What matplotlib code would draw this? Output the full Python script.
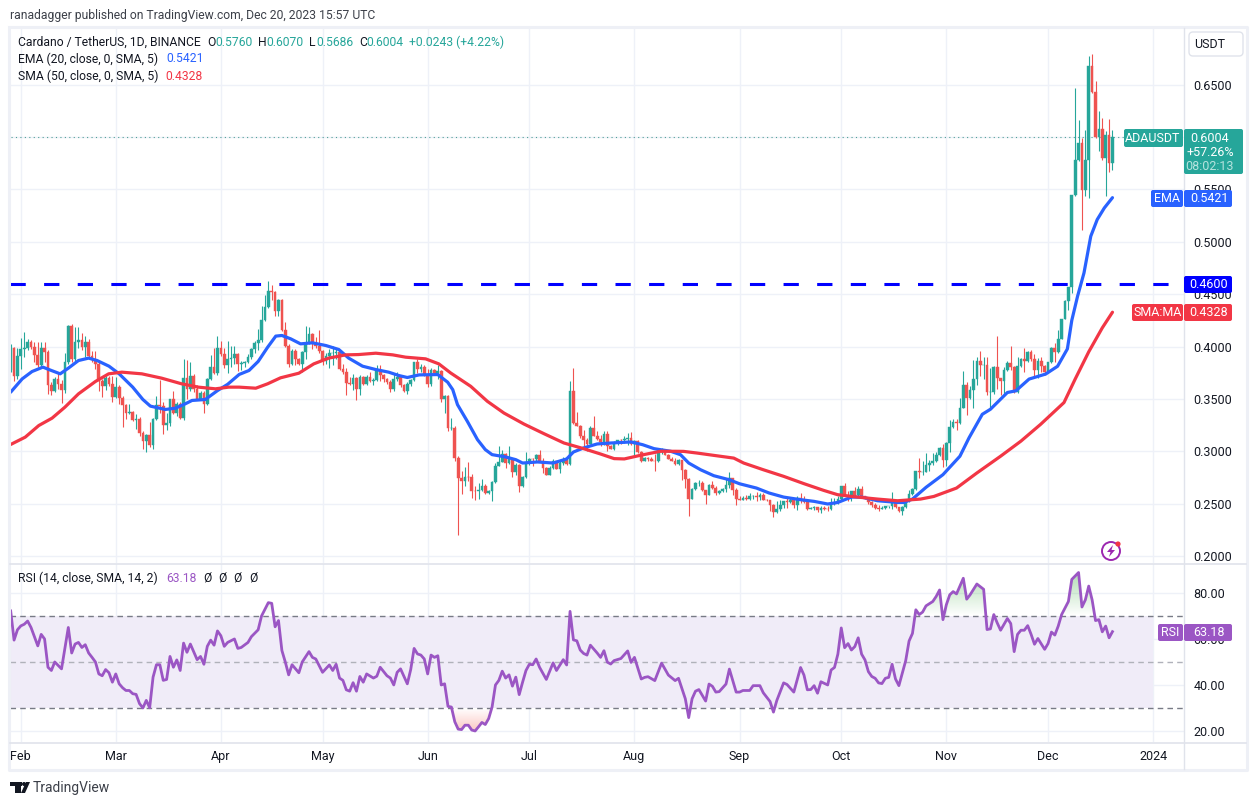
import numpy as np
import matplotlib
matplotlib.use("Agg")
import matplotlib.pyplot as plt
from matplotlib.patches import Polygon, Circle, FancyBboxPatch, Rectangle

plt.rcParams['font.family'] = ['Roboto', 'DejaVu Sans']

GREEN = '#26a69a'
RED = '#ef5350'
EMA_BLUE = '#2962ff'
SMA_RED = '#f23645'
RSI_PURPLE = '#9b56c4'
GRID = '#eef1f8'
BORDER = '#e0e3eb'
TEXT = '#131722'

W, H = 1258, 805

first_open = 0.378

closes = [
    .399, .372, .391, .398, .399, .404, .400, .392, .382, .399,
    .395, .363, .358, .369, .364, .359, .385, .420, .388, .404,
    .406, .400, .404, .391, .387, .383, .367, .362, .370, .364,
    .352, .361, .351, .344, .337, .338, .330, .331, .318, .310,
    .316, .306, .331, .344, .343, .325, .327, .350, .337, .345,
    .332, .370, .360, .372, .360, .350, .356, .345, .369, .381,
    .375, .399, .393, .382, .388, .389, .393, .383, .384, .385,
    .390, .398, .403, .406, .425, .438, .453, .452, .434, .444,
    .416, .401, .383, .396, .388, .383, .395, .403, .412, .403,
    .401, .396, .386, .391, .394, .394, .395, .379, .376, .365,
    .364, .370, .360, .371, .364, .371, .367, .368, .378, .373,
    .369, .366, .360, .369, .371, .363, .358, .364, .368, .385,
    .379, .381, .373, .364, .378, .375, .377, .350, .353, .322,
    .322, .294, .275, .2715, .2755, .2753, .2625, .2620, .2632, .2673,
    .2603, .2625, .2708, .2864, .2902, .2975, .289, .2925, .2803, .2873,
    .2667, .2756, .2889, .2931, .2928, .2969, .2905, .2842, .2778, .2842,
    .2905, .2835, .2886, .2921, .2880, .3573, .3271, .3245, .3144, .3108,
    .3075, .3223, .315, .312, .3085, .3169, .3055, .3026, .308, .3108,
    .3105, .3122, .3125, .3071, .3102, .2991, .2912, .2937, .293, .2912,
    .2905, .3017, .3017, .2969, .2931, .2912, .288, .2914, .2819, .2736,
    .2548, .2641, .2698, .2700, .2628, .2586, .2682, .265, .2602, .2625,
    .2641, .2682, .2746, .2634, .2545, .2539, .2555, .2548, .2570, .2577,
    .2565, .2586, .2539, .2532, .2491, .2418, .2453, .2491, .2523, .2520,
    .2535, .2485, .2554, .2548, .2513, .2449, .2459, .2465, .2437, .2459,
    .2455, .2447, .2497, .2507, .2548, .2666, .2577, .2565, .2618, .2586,
    .2640, .2571, .2555, .2513, .2491, .2459, .2450, .2459, .2475, .2480,
    .2523, .2466, .2428, .2466, .2529, .2590, .2642, .2811, .2803, .2805,
    .2870, .2890, .2906, .2963, .3035, .2922, .3082, .3236, .3284, .3270,
    .3418, .3633, .3508, .3585, .3690, .3860, .3823, .3825, .3562, .3570,
    .3802, .3700, .3674, .3777, .3844, .3809, .3562, .3812, .3882, .3866,
    .3946, .3882, .3780, .3860, .3818, .3754, .3850, .3985, .3953, .4074,
    .4266, .4436, .4570, .5450, .5785, .5943, .5498, .5785, .6675, .6427,
    .5998, .6077, .5800, .6023, .5753, .6004,
]

highs = [
    .402, .400, .399, .408, .414, .407, .406, .404, .404, .404,
    .404, .397, .366, .371, .376, .368, .394, .421, .422, .419,
    .419, .413, .410, .407, .396, .396, .386, .369, .372, .372,
    .372, .371, .363, .353, .345, .345, .339, .336, .333, .319,
    .317, .328, .332, .353, .368, .347, .337, .350, .358, .347,
    .347, .388, .387, .385, .374, .363, .358, .358, .370, .3915,
    .399, .4105, .405, .399, .4055, .401, .401, .394, .386, .386,
    .393, .399, .405, .417, .439, .449, .463, .459, .453, .445,
    .445, .423, .402, .398, .398, .389, .396, .420, .419, .413,
    .409, .416, .397, .394, .398, .401, .399, .396, .383, .380,
    .371, .374, .371, .373, .372, .373, .376, .370, .382, .382,
    .374, .370, .368, .374, .376, .372, .364, .366, .369, .385,
    .3885, .383, .382, .379, .380, .379, .3825, .378, .354, .354,
    .332, .324, .2953, .281, .285, .29, .278, .2667, .27, .274,
    .2686, .2635, .2714, .289, .3055, .3015, .2985, .3055, .2937, .2889,
    .288, .2762, .2994, .2937, .2937, .2975, .3017, .2937, .2848, .2858,
    .2931, .2912, .2905, .2944, .2937, .3675, .3796, .338, .3255, .3207,
    .3128, .3239, .3335, .3192, .316, .3192, .3192, .3064, .3096, .3112,
    .3122, .3144, .3176, .3185, .3112, .3112, .3007, .2944, .2944, .2944,
    .2975, .3026, .3033, .3026, .2975, .2947, .2936, .2927, .2920, .2831,
    .2745, .2650, .2704, .2730, .2714, .2634, .2689, .2714, .2670, .2634,
    .2650, .2736, .2803, .2740, .2650, .2571, .2571, .2583, .2603, .2587,
    .2615, .2603, .2603, .2548, .2539, .2497, .2529, .2539, .2529, .2561,
    .2561, .2529, .2571, .2603, .2571, .2539, .2465, .2475, .2465, .2481,
    .2481, .2475, .2555, .2555, .2571, .2666, .2698, .2618, .2618, .2660,
    .2673, .2666, .2577, .2561, .2523, .2507, .2487, .2475, .2481, .2481,
    .2609, .2529, .2469, .2475, .2539, .2634, .2650, .2817, .2938, .2906,
    .2980, .2916, .2986, .2992, .3042, .3066, .3088, .3298, .3306, .3306,
    .3505, .3764, .3658, .3625, .3873, .3905, .3956, .3898, .3905, .3796,
    .3818, .4100, .3700, .3802, .3860, .4004, .3815, .3898, .3888, .3985,
    .3962, .3972, .3930, .3892, .3898, .3824, .3856, .3994, .4034, .4161,
    .4266, .4442, .4570, .5450, .6468, .6166, .5991, .6071, .6777, .6796,
    .6538, .6252, .6182, .6060, .6172, .6070,
]

lows = [
    .376, .367, .369, .379, .390, .397, .398, .385, .381, .381,
    .385, .355, .354, .357, .360, .346, .356, .383, .385, .386,
    .399, .397, .390, .390, .385, .379, .358, .352, .359, .362,
    .347, .351, .345, .323, .331, .336, .329, .3215, .315, .302,
    .299, .304, .302, .330, .337, .317, .320, .324, .336, .334,
    .331, .330, .350, .358, .357, .349, .349, .337, .344, .368,
    .374, .373, .391, .380, .375, .381, .383, .377, .378, .381,
    .384, .388, .394, .397, .404, .424, .437, .444, .429, .429,
    .415, .400, .381, .382, .382, .382, .376, .388, .402, .398,
    .399, .394, .382, .383, .380, .382, .388, .378, .374, .354,
    .363, .359, .3495, .354, .363, .363, .366, .363, .367, .367,
    .366, .364, .357, .358, .367, .361, .357, .355, .362, .367,
    .375, .376, .372, .361, .362, .374, .369, .3476, .337, .319,
    .3207, .2905, .2206, .2597, .2667, .2715, .2555, .2533, .2546, .262,
    .2596, .2590, .2524, .2702, .2858, .2896, .2842, .2883, .276, .2778,
    .261, .266, .2746, .2873, .2858, .2905, .2899, .2794, .2772, .2772,
    .2829, .2829, .2794, .2873, .2873, .2873, .3266, .3242, .3128, .3048,
    .3007, .3074, .3144, .3112, .3048, .3058, .3007, .3023, .3017, .3064,
    .3071, .308, .3064, .3064, .2953, .2985, .2899, .2912, .2912, .2905,
    .2816, .2899, .2975, .2963, .2924, .2905, .2873, .2873, .2730, .2650,
    .2386, .2543, .2634, .2666, .2618, .2501, .2580, .2640, .2586, .2596,
    .2615, .2610, .2650, .2586, .2490, .2533, .2539, .2536, .2539, .2548,
    .2523, .2539, .2533, .2526, .2428, .2370, .2408, .2428, .2463, .2463,
    .2507, .2463, .2440, .2507, .2507, .2441, .2450, .2441, .2418, .2412,
    .2437, .2431, .2437, .2485, .2497, .2539, .2571, .2523, .2523, .2565,
    .2577, .2565, .2548, .2500, .2469, .2453, .2428, .2453, .2453, .2459,
    .2453, .2459, .2418, .2396, .2459, .2520, .2580, .2635, .2746, .2772,
    .2800, .2810, .2870, .2900, .2954, .2849, .2856, .2993, .3224, .3200,
    .3262, .3410, .3345, .3500, .3418, .3633, .3722, .3690, .3535, .3412,
    .3550, .3594, .3537, .3550, .3770, .3780, .3555, .3555, .3802, .3754,
    .3850, .3866, .3722, .3696, .3754, .3728, .3744, .3840, .3850, .3935,
    .4068, .4260, .4346, .4510, .5440, .5770, .5117, .5435, .5419, .6420,
    .5990, .5864, .5785, .5435, .5664, .5686,
]

ema_days = [0, 3.4, 6.3, 9.5, 12, 14.6, 17, 20, 23, 25.5, 29, 32, 36, 39, 41.2, 45.6, 48.6, 51.5,
            53.5, 57.4, 61, 64, 67.4, 70.3, 73, 75.8, 78.2, 80, 82.6, 85.5, 89, 93, 96.8, 99.7,
            103.8, 107.7, 111.5, 114.5, 117, 120.5, 126, 128.9, 130.4, 131.8, 134.7, 137.7, 140,
            142, 146, 149, 151, 155.4, 160, 164, 166, 169, 173, 177, 183, 186.4, 189.8, 194.7,
            197.6, 200, 203.5, 207.4, 211.9, 215, 220, 223.7, 228, 233, 237, 241, 244, 248, 251,
            255.7, 261.6, 263.5, 266, 270, 275, 280, 282.7, 286.6, 289, 294, 296.5, 300.4, 305.3,
            308.8, 311.7, 313, 314.7, 316.6, 318.6, 320.5, 322.6, 325]
ema_values = [.3565, .3692, .3762, .3804, .3772, .374, .3794, .3867, .389, .3867, .3813, .374, .3613,
              .3495, .3432, .340, .3412, .3454, .3486, .3495, .358, .364, .3734, .3772, .3858, .3994,
              .41, .4106, .4074, .4026, .4036, .401, .3972, .389, .3813, .3781, .3756, .3724, .3705,
              .373, .3733, .366, .3589, .3446, .3287, .3112, .3017, .2969, .2947, .2921, .2889, .2899,
              .2889, .2928, .2994, .3033, .3071, .308, .309, .3064, .3026, .3001, .2968, .2889, .2825,
              .2768, .273, .2691, .265, .2603, .2564, .2539, .2523, .2498, .2513, .2564, .2564, .2529,
              .2513, .2513, .2545, .2657, .2778, .2954, .313, .3354, .3402, .3562, .3578, .369, .3738,
              .3812, .3978, .425, .448, .4703, .5053, .5212, .5323, .5421]

sma_days = [0, 4.3, 8.3, 12.2, 16, 20, 25, 28.9, 32.8, 38.7, 44.5, 50.4, 55.4, 60.4, 64.3, 67.4, 72.3,
            75.8, 79.6, 85, 89.4, 93.8, 98.8, 102.6, 107.7, 112.7, 116.5, 122.4, 126.3, 129.8, 135.7,
            140.6, 145.5, 151.4, 157.3, 163.2, 169, 174, 178, 181, 185.8, 191.7, 196, 198.5, 202.5,
            207.4, 213.3, 216.2, 222, 228, 234, 239.8, 243.9, 249.8, 255.7, 261.6, 268.4, 272.3, 279,
            285, 292, 298, 303.8, 310.7, 314, 318, 322, 325]
sma_values = [.3066, .3136, .3247, .3317, .3422, .3549, .3667, .374, .3756, .374, .3699, .3645, .3613,
              .3597, .3613, .3613, .3603, .3645, .3702, .3746, .3835, .389, .3921, .3924, .3937, .3921,
              .3899, .3883, .3835, .3748, .3621, .3478, .3366, .3261, .3169, .308, .3026, .2975, .2931,
              .2928, .2963, .3001, .3001, .30, .2984, .2962, .2936, .2889, .2825, .2762, .2692, .2628,
              .2587, .2564, .2545, .2529, .2545, .257, .265, .2794, .2954, .3098, .3258, .3466, .369,
              .395, .4179, .4328]

rsi_days = [0, 1, 2, 3, 4, 5, 6, 8, 9, 10, 11, 12, 13, 15, 17, 18, 19, 20, 21, 22, 23, 24, 25, 26, 27,
            28, 29, 30, 31, 32, 33, 34, 35, 36, 37, 38, 39, 40, 41, 42, 43, 44, 45, 46, 47, 48, 49, 50,
            51, 52, 53, 55, 56, 57, 58, 59, 60, 61, 62, 63, 64, 66, 67, 68, 70, 71, 73, 74, 76, 77, 78,
            79, 80, 81, 82, 83, 85, 86, 88, 89, 90, 92, 94, 95, 96, 97, 98, 99, 100, 101, 102, 103, 104,
            105, 107, 108, 109, 111, 112, 113, 114, 115, 117, 118, 119, 120, 121, 122, 123, 124, 125,
            126, 127, 128, 129, 130, 131, 132, 133, 134, 135, 136, 137, 138, 139, 140, 141, 142, 143,
            144, 145, 146, 147, 148, 149, 150, 151, 152, 153, 154, 155, 156, 158, 160, 161, 163, 164,
            165, 166, 167, 168, 169, 170, 171, 173, 174, 175, 176, 177, 178, 180, 182, 183, 184, 186,
            187, 188, 190, 192, 194, 196, 197, 199, 200, 201, 202, 203, 205, 206, 207, 208, 209, 211,
            212, 214, 215, 216, 218, 219, 221, 222, 223, 224, 225, 226, 228, 229, 231, 233, 234, 235,
            236, 237, 238, 239, 241, 242, 243, 244, 245, 246, 247, 248, 249, 250, 251, 252, 253, 254,
            255, 256, 257, 258, 259, 260, 261, 262, 264, 265, 266, 267, 268, 269, 270, 272, 273, 274,
            275, 276, 277, 278, 279, 281, 282, 283, 285, 287, 288, 289, 290, 291, 292, 294, 295, 296,
            297, 298, 299, 300, 301, 302, 303, 305, 306, 307, 308, 309, 310, 312, 313, 315, 316, 317,
            318, 319, 320, 321, 322, 323, 324, 325]
rsi_values = [72.2, 59.5, 64, 65.7, 66.4, 67.8, 65, 57, 62, 60, 47.7, 46.3, 50, 47, 65, 53.9, 57.8, 58.5,
              56.3, 57.5, 53.9, 52, 50, 44.8, 44, 46.7, 45.3, 41.2, 44.8, 40.5, 38.8, 37.6, 37.6, 36.2,
              35.9, 31.9, 30, 33.3, 30.1, 43.4, 48.8, 48.8, 42, 42.4, 52.4, 47.7, 50.9, 46.3, 58.2, 54.2,
              57.8, 51, 52.4, 49, 56.8, 59.5, 57.3, 63.5, 61.4, 56.8, 58.5, 60, 55.9, 56.3, 58.5, 61, 64,
              70, 75.8, 75.5, 65.3, 68, 55, 50, 44.4, 48.8, 45.3, 50, 54.5, 52, 51.3, 45.5, 48.7, 46.3,
              49, 43, 42, 37.9, 37.3, 41, 37.3, 43.7, 41.2, 44.8, 43, 43.8, 47.7, 44, 43, 40, 45.5, 47,
              40.5, 46.7, 55.9, 53.5, 53, 51.3, 44.8, 53, 52, 52.7, 40, 40.5, 30.7, 30.4, 24, 20.8, 20.6,
              22.5, 22.5, 20.4, 20, 21.8, 23.7, 22.8, 25.4, 30.4, 40, 42, 46, 43, 44.4, 39.5, 43.4, 35.8,
              41.2, 46.3, 49, 48.8, 51.3, 47.7, 42.4, 49.6, 46.3, 51, 48.7, 72, 59.6, 59.2, 55.2, 53.7,
              53, 57.3, 53.9, 52, 54.9, 49.9, 49.1, 50.6, 51.5, 54.8, 49.8, 52, 42.6, 43.3, 43.6, 41.9,
              49.5, 44.3, 41.9, 42.9, 34, 25.8, 34, 37.3, 38, 33, 40.4, 39.4, 36.9, 37.1, 40.4, 46.9,
              36.9, 36.9, 37.6, 37.6, 39.7, 39.7, 36.6, 34.7, 32.8, 28.2, 33.3, 40.9, 40.2, 36.9, 47.6,
              44.3, 37.9, 38, 39.7, 36.4, 41.4, 40, 46.5, 47.6, 53.4, 64.8, 56.2, 58, 55.2, 56.7, 60.5,
              53.4, 50.9, 45.8, 43.7, 42.9, 40.9, 40.6, 42.9, 43.3, 49, 42.6, 39.7, 50.5, 59.1, 62.4,
              72.7, 70.6, 71.7, 74.4, 76.3, 78.5, 81.3, 68.4, 74.9, 79.2, 80.6, 79.6, 86.4, 77.3, 79.2,
              83.9, 81.6, 64.1, 64.4, 70.6, 67, 63.8, 68.9, 66.7, 54.5, 62, 63.8, 63.8, 65.8, 62, 57.7,
              60.2, 55.5, 58, 63, 61.7, 65.6, 70.6, 76.3, 85.9, 88.9, 73.9, 77, 83, 77, 68, 68.4, 63.1,
              65.6, 60.5, 63.18]

month_days = [3, 31, 62, 92, 123, 153, 184, 215, 245, 276, 306, 337]
month_labels = ['Feb', 'Mar', 'Apr', 'May', 'Jun', 'Jul', 'Aug', 'Sep', 'Oct', 'Nov', 'Dec', '2024']
price_ticks = [0.20, 0.25, 0.30, 0.35, 0.40, 0.45, 0.50, 0.55, 0.60, 0.65]
rsi_ticks = [20, 40, 60, 80]

support_level = 0.46
last_price = 0.6004


def pane(left, top, right, bottom):
    return [left / W, 1 - bottom / H, (right - left) / W, (bottom - top) / H]


fig = plt.figure(figsize=(W / 100, H / 100), dpi=100, facecolor='white')
ax = fig.add_axes(pane(10, 28, 1184, 563))
ax_rsi = fig.add_axes(pane(10, 564, 1184, 742))
overlay = fig.add_axes([0, 0, 1, 1], zorder=10)
overlay.set_xlim(0, W)
overlay.set_ylim(H, 0)
overlay.axis('off')

days = np.arange(len(closes))
closes_arr = np.array(closes)
opens_arr = np.concatenate([[first_open], closes_arr[:-1]])
colors = [GREEN if c >= o else RED for o, c in zip(opens_arr, closes_arr)]

# candles
ax.vlines(days, lows, highs, colors=colors, linewidth=0.8, zorder=3)
ax.bar(days, closes_arr - opens_arr, bottom=opens_arr, width=0.8, color=colors,
       edgecolor=colors, linewidth=0.3, zorder=4)

# moving averages and levels
ax.plot(ema_days, ema_values, color=EMA_BLUE, lw=2.3, zorder=5, solid_capstyle='round')
ax.plot(sma_days, sma_values, color=SMA_RED, lw=2.3, zorder=5, solid_capstyle='round')
ax.axhline(support_level, color='#0000ff', lw=2.2, linestyle=(0, (5, 6)), dash_capstyle='butt', zorder=6)
ax.plot([0, 329], [last_price, last_price], color='#4f9f96', lw=0.8, linestyle=(0, (1, 3)), zorder=2)

ax.set_xlim(-0.2, 346.1)
ax.set_ylim(0.1935, 0.7040)
# the 0.6000 label sits fully behind the last price tag
ax.set_yticks(price_ticks, labels=[f"{t:.4f}" if t != 0.60 else "" for t in price_ticks])
ax.yaxis.tick_right()
ax.set_xticks(month_days, labels=[])
ax.tick_params(axis='both', length=0, labelsize=9, labelcolor=TEXT, pad=7)
ax.grid(True, color=GRID, lw=1.0, zorder=0)
ax.set_axisbelow(True)

# rsi pane
rsi_days_arr = np.array(rsi_days, dtype=float)
rsi_values_arr = np.array(rsi_values)
ax_rsi.axhspan(30, 70, xmin=0, xmax=(337 + 0.2) / 346.3, color='#f0ecf8', lw=0, zorder=1)
ax_rsi.axhline(70, color='#787b86', lw=1.0, linestyle=(0, (4, 3)), zorder=2)
ax_rsi.axhline(50, color='#b0b2ba', lw=1.0, linestyle=(0, (4, 3)), zorder=2)
ax_rsi.axhline(30, color='#787b86', lw=1.0, linestyle=(0, (4, 3)), zorder=2)

green_rgba = np.zeros((64, 1, 4))
green_rgba[..., :3] = matplotlib.colors.to_rgb('#4caf50')
green_rgba[..., 3] = np.linspace(0, 0.45, 64)[::-1].reshape(-1, 1)
im_top = ax_rsi.imshow(green_rgba, extent=(0, 326, 70, 90), aspect='auto', zorder=2, origin='upper')
clip_top = Polygon(np.column_stack([np.r_[rsi_days_arr, rsi_days_arr[-1], rsi_days_arr[0]],
                                    np.r_[rsi_values_arr, 70, 70]]), closed=True, transform=ax_rsi.transData)
im_top.set_clip_path(clip_top)

red_rgba = np.zeros((64, 1, 4))
red_rgba[..., :3] = matplotlib.colors.to_rgb('#f44336')
red_rgba[..., 3] = np.linspace(0, 0.3, 64).reshape(-1, 1)[::-1]
im_bot = ax_rsi.imshow(red_rgba, extent=(0, 326, 20, 30), aspect='auto', zorder=2, origin='lower')
clip_bot = Polygon(np.column_stack([np.r_[rsi_days_arr, rsi_days_arr[-1], rsi_days_arr[0]],
                                    np.r_[rsi_values_arr, 30, 30]]), closed=True, transform=ax_rsi.transData)
im_bot.set_clip_path(clip_bot)

ax_rsi.plot(rsi_days_arr, rsi_values_arr, color=RSI_PURPLE, lw=2.0, zorder=5)

ax_rsi.set_xlim(-0.2, 346.1)
ax_rsi.set_ylim(15.2, 92.6)
ax_rsi.set_yticks(rsi_ticks, labels=[f"{t:.2f}" for t in rsi_ticks])
ax_rsi.yaxis.tick_right()
ax_rsi.set_xticks(month_days, labels=month_labels)
ax_rsi.tick_params(axis='both', length=0, labelsize=9, labelcolor=TEXT)
ax_rsi.tick_params(axis='y', pad=7)
ax_rsi.tick_params(axis='x', pad=6)
ax_rsi.grid(True, color=GRID, lw=1.0, zorder=0)
ax_rsi.set_axisbelow(True)

for a in (ax, ax_rsi):
    for s in a.spines.values():
        s.set_visible(False)

# frame of the chart
overlay.plot([9, 9, 1247, 1247, 9], [27, 770, 770, 27, 27], color='#eef0f6', lw=2.2)
overlay.plot([1184, 1184], [28, 769], color=BORDER, lw=1.0)
overlay.plot([10, 1246], [563.5, 563.5], color=BORDER, lw=1.2)
overlay.plot([10, 1246], [742.5, 742.5], color=BORDER, lw=1.2)

# header text
overlay.text(10, 15, "ranadagger published on TradingView.com, Dec 20, 2023 15:57 UTC",
             fontsize=8.7, color='#3c4049', va='center')


def legend_row(y, parts):
    for x, txt, col in parts:
        overlay.text(x, y, txt, fontsize=8.7, color=col, va='center')


legend_row(42, [(18, "Cardano / TetherUS, 1D, BINANCE", TEXT), (207, "O", TEXT), (215, "0.5760", GREEN),
                (258, "H", TEXT), (266, "0.6070", GREEN), (309, "L", TEXT), (316, "0.5686", GREEN),
                (359, "C", TEXT), (366, "0.6004", GREEN), (409, "+0.0243 (+4.22%)", GREEN)])
legend_row(59, [(18, "EMA (20, close, 0, SMA, 5)", TEXT), (166, "0.5421", EMA_BLUE)])
legend_row(76, [(18, "SMA (50, close, 0, SMA, 5)", TEXT), (165, "0.4328", SMA_RED)])
legend_row(578, [(18, "RSI (14, close, SMA, 14, 2)", TEXT), (166, "63.18", RSI_PURPLE),
                 (203, "Ø", TEXT), (218, "Ø", TEXT), (233, "Ø", TEXT), (249, "Ø", TEXT)])


def tag(x0, x1, y0, y1, color, zorder=12):
    overlay.add_patch(FancyBboxPatch((x0 + 1, y0 + 1), x1 - x0 - 2, y1 - y0 - 2,
                                     boxstyle="round,pad=1,rounding_size=2", fc=color, ec='none', zorder=zorder))


def tag_text(x, y, txt, color='white'):
    overlay.text(x, y, txt, fontsize=9, color=color, ha='center', va='center', zorder=13)


# usdt button
overlay.add_patch(FancyBboxPatch((1190, 33), 52, 22, boxstyle="round,pad=1,rounding_size=4",
                                 fc='white', ec=BORDER, lw=1.0, zorder=12))
tag_text(1210, 44, "USDT", TEXT)

# right side tags
tag(1124, 1183, 129, 147, GREEN)
tag_text(1153, 138, "ADAUSDT")
tag(1184, 1243, 129, 174, GREEN)
tag_text(1210, 138, "0.6004")
tag_text(1210, 152, "+57.26%")
tag_text(1210, 166, "08:02:13", '#b5e3de')

tag(1151, 1183, 190, 207, EMA_BLUE)
tag_text(1167, 198.5, "EMA")
tag(1184, 1232, 190, 207, EMA_BLUE)
tag_text(1209, 198.5, "0.5421")

tag(1184, 1232, 276, 293, '#0000ff')
tag_text(1209, 284.5, "0.4600")

tag(1132, 1183, 304, 321, SMA_RED)
tag_text(1158, 312.5, "SMA:MA")
tag(1184, 1232, 304, 321, SMA_RED)
tag_text(1209, 312.5, "0.4328")

tag(1158, 1183, 624, 641, RSI_PURPLE)
tag_text(1170.5, 632.5, "RSI")
tag(1184, 1232, 624, 641, RSI_PURPLE)
tag_text(1209, 632.5, "63.18")

# flash icon
overlay.add_patch(Circle((1111, 551), 9, fc='white', ec='#9c27b0', lw=1.4, zorder=12))
overlay.add_patch(Polygon([(1113, 545), (1107, 552), (1110.5, 552), (1109, 557), (1115, 550), (1111.5, 550)],
                          closed=True, fc='#9c27b0', ec='none', zorder=13))
overlay.add_patch(Circle((1118, 544), 2.6, fc='#f23645', ec='none', zorder=14))

# logo
overlay.add_patch(Rectangle((10, 782), 12, 4, fc='#131722', ec='none'))
overlay.add_patch(Rectangle((15, 782), 6, 11, fc='#131722', ec='none'))
overlay.add_patch(Circle((24, 784), 2, fc='#131722', ec='none'))
overlay.add_patch(Polygon([(21, 793), (26, 782), (30, 782), (25, 793)], closed=True, fc='#131722', ec='none'))
overlay.text(33, 787.5, "TradingView", fontsize=10, color='#3c4049', va='center')

fig.savefig("out.png", dpi=100)
